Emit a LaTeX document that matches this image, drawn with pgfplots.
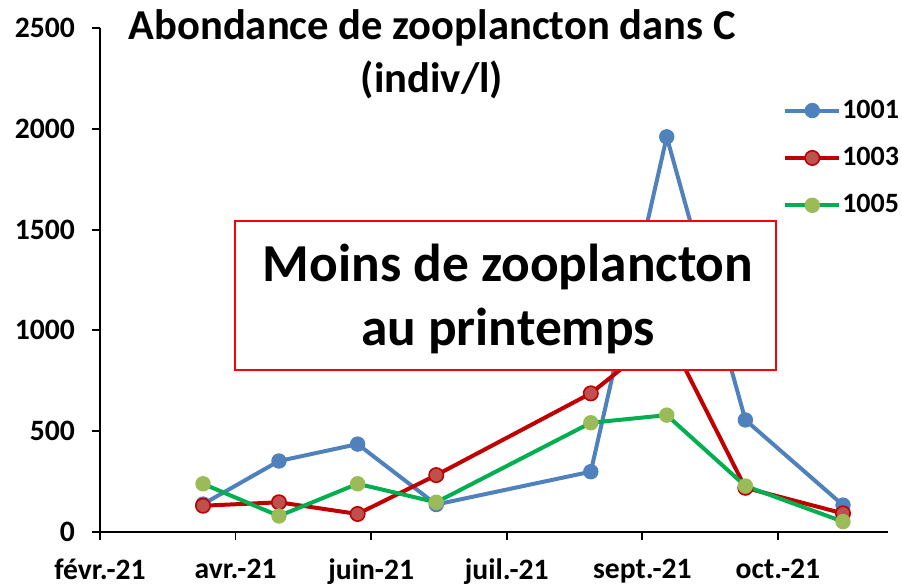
\documentclass[border=0pt]{standalone}
\usepackage{fontspec}
\setmainfont{Carlito}
\usepackage{pgfplots}
\pgfplotsset{compat=1.18}
\definecolor{cblue}{HTML}{4F81BD}
\definecolor{cred}{HTML}{C00000}
\definecolor{credfill}{HTML}{C0504D}
\definecolor{cgreen}{HTML}{00B050}
\definecolor{cgreenfill}{HTML}{9BBB59}
\begin{document}
\begin{tikzpicture}
\useasboundingbox (-50pt,-26.65pt) rectangle (401pt,265.85pt);
\begin{axis}[
  scale only axis,
  width=394pt, height=251.7pt,
  xmin=0, xmax=290.6, ymin=0, ymax=2500,
  axis lines=left,
  axis line style={-, line width=0.9pt},
  tick style={line width=0.9pt, black},
  tick align=outside,
  major tick length=4pt,
  xtick={0,50,100,150,200,250},
  xticklabels={févr.-21, avr.-21, juin-21, juil.-21, sept.-21, oct.-21},
  ytick={0,500,1000,1500,2000,2500},
  /pgf/number format/assume math mode=true,
  /pgf/number format/1000 sep={},
  ticklabel style={font=\fontsize{14.8pt}{17pt}\selectfont\bfseries},
  yticklabel style={xshift=-5pt},
  xticklabel style={yshift=-6pt},
  legend style={at={(0.859,0.8685)}, anchor=north west, draw=none, fill=none,
    font=\fontsize{14pt}{16pt}\selectfont\bfseries,
    row sep=12pt, column sep=0pt, cells={anchor=west}, nodes={inner sep=0.5pt}},
  legend image code/.code={\draw[mark repeat=2,mark phase=2,#1] plot coordinates {(0pt,0pt)(13.5pt,0pt)(27pt,0pt)};},
  every axis plot/.append style={line width=2pt, mark=*, mark size=3.6pt},
]
\addplot[color=cblue, mark options={fill=cblue, draw=cblue, line width=0.5pt}] coordinates {
(38,137) (66,351) (95,435) (124,135) (181,298) (209,1961) (238,555) (274,132)};
\addlegendentry{1001}
\addplot[color=cred, mark options={fill=credfill, draw=cred, line width=0.8pt}] coordinates {
(38,129) (66,146) (95,88) (124,281) (181,687) (209,990) (238,218) (274,91)};
\addlegendentry{1003}
\addplot[color=cgreen, mark options={fill=cgreenfill, draw=cgreenfill, line width=0.5pt}] coordinates {
(38,238) (66,78) (95,238) (124,146) (181,541) (209,579) (238,227) (274,50)};
\addlegendentry{1005}
\end{axis}
\node[anchor=base, font=\fontsize{21.3pt}{25pt}\selectfont\bfseries] at (166pt,246.2pt) {Abondance de zooplancton dans C};
\node[anchor=base, font=\fontsize{21.3pt}{25pt}\selectfont\bfseries] at (166pt,219.5pt) {(indiv/l)};
\draw[red, fill=white, line width=0.6pt] (67.5pt,80.85pt) rectangle (338pt,155.35pt);
\node[anchor=base, font=\fontsize{26.7pt}{30pt}\selectfont\bfseries] at (204pt,125pt) {Moins de zooplancton};
\node[anchor=base, font=\fontsize{26.7pt}{30pt}\selectfont\bfseries] at (204pt,93.35pt) {au printemps};
\end{tikzpicture}
\end{document}
